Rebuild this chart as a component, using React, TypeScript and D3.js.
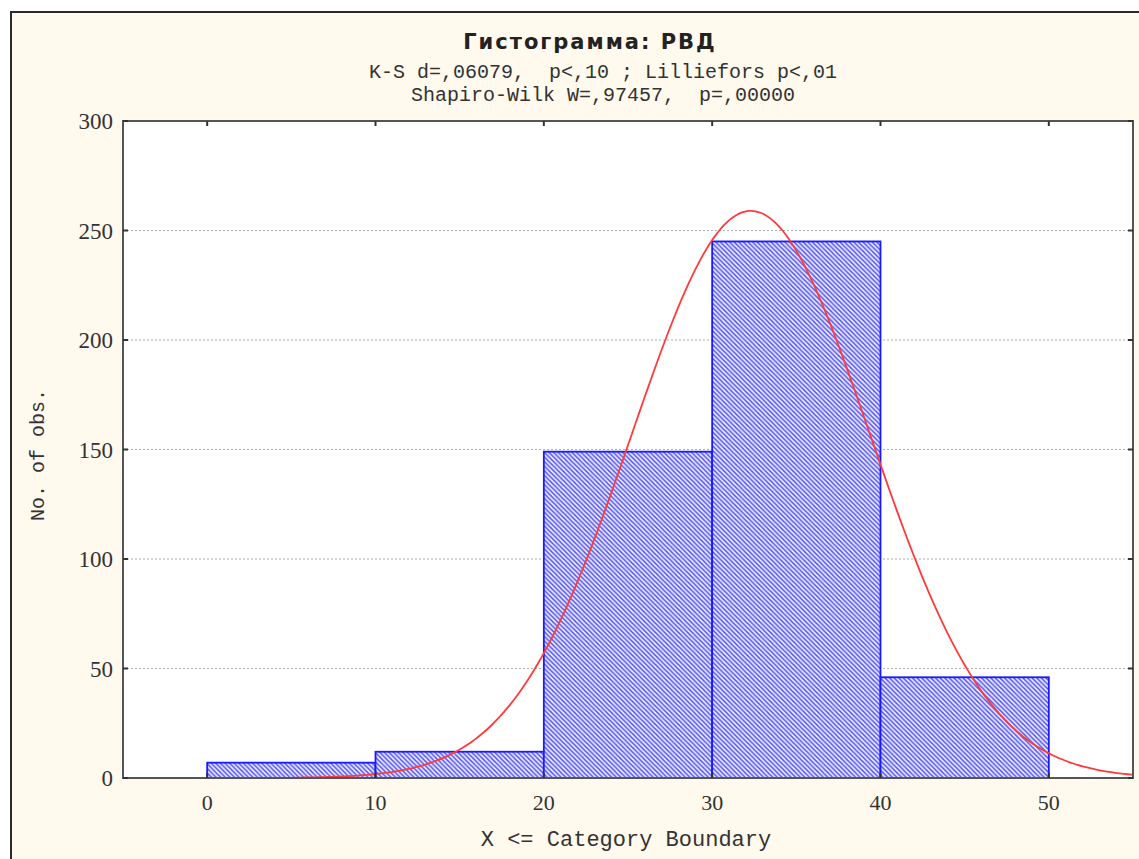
import React from 'react';
import * as d3 from 'd3';

// histogram bins (lower boundary, count)
const binStarts = [0, 10, 20, 30, 40];
const binCounts = [7, 12, 149, 245, 46];
const binWidth = 10;

// fitted normal curve parameters
const fitMean = 32.3;
const fitSd = 7.07;
const curveFrom = 5.2;
const curveTo = 55;

const xTicks = [0, 10, 20, 30, 40, 50];
const yTicks = [0, 50, 100, 150, 200, 250, 300];

const titleText = 'Гистограмма: РВД';
const subtitleLines = [
  'K-S d=,06079,  p<,10 ; Lilliefors p<,01',
  'Shapiro-Wilk W=,97457,  p=,00000',
];
const xLabel = 'X <= Category Boundary';
const yLabel = 'No. of obs.';

const W = 1139;
const H = 859;
const plot = { left: 123, right: 1133, top: 121, bottom: 778 };

const App: React.FC = () => {
  const x = d3.scaleLinear().domain([-5, 55]).range([plot.left, plot.right]);
  const y = d3.scaleLinear().domain([0, 300]).range([plot.bottom, plot.top]);

  const total = d3.sum(binCounts);
  const normal = (v: number) =>
    (total * binWidth * Math.exp(-0.5 * ((v - fitMean) / fitSd) ** 2)) /
    (fitSd * Math.sqrt(2 * Math.PI));

  const curvePts = d3.range(curveFrom, curveTo + 0.001, 0.25);
  const line = d3
    .line<number>()
    .x((d) => x(d))
    .y((d) => y(normal(d)))
    .curve(d3.curveBasis);

  const mono = '"Liberation Mono", "DejaVu Sans Mono", monospace';
  const serif = '"Liberation Serif", "DejaVu Serif", serif';
  const hp = 4.6; // hatch period

  return (
    <>
      <style>{'body{margin:0}'}</style>
      <svg width={W} height={H} style={{ display: 'block' }}>
        <defs>
          <pattern id="hatch" patternUnits="userSpaceOnUse" width={hp} height={hp}>
            <rect width={hp} height={hp} fill="#f0f0ff" />
            <path
              d={`M0,0 L${hp},${hp} M-1,${hp - 1} L1,${hp + 1} M${hp - 1},-1 L${hp + 1},1`}
              stroke="#5656f4"
              strokeWidth={1.5}
            />
          </pattern>
          <clipPath id="plotClip">
            <rect x={plot.left} y={plot.top} width={plot.right - plot.left} height={plot.bottom - plot.top} />
          </clipPath>
        </defs>

        <rect x={0} y={0} width={W} height={H} fill="#ffffff" />
        <rect x={11} y={12} width={W + 20} height={H + 20} fill="#fff9ee" stroke="#2a2a2a" strokeWidth={2} />

        <rect
          x={plot.left}
          y={plot.top}
          width={plot.right - plot.left}
          height={plot.bottom - plot.top}
          fill="#ffffff"
        />

        {/* grid */}
        {yTicks
          .filter((t) => t > 0 && t < 300)
          .map((t) => (
            <line
              key={'g' + t}
              x1={plot.left}
              x2={plot.right}
              y1={y(t)}
              y2={y(t)}
              stroke="#b0b0b0"
              strokeWidth={1}
              strokeDasharray="2,2"
            />
          ))}

        {/* bars */}
        {binStarts.map((s, i) => (
          <rect
            key={'b' + s}
            x={x(s)}
            y={y(binCounts[i])}
            width={x(s + binWidth) - x(s)}
            height={y(0) - y(binCounts[i])}
            fill="url(#hatch)"
            stroke="#1a1aff"
            strokeWidth={1.8}
          />
        ))}

        {/* normal curve */}
        <path
          d={line(curvePts) || ''}
          fill="none"
          stroke="#ff3a3a"
          strokeWidth={1.8}
          clipPath="url(#plotClip)"
        />

        {/* frame */}
        <rect
          x={plot.left}
          y={plot.top}
          width={plot.right - plot.left}
          height={plot.bottom - plot.top}
          fill="none"
          stroke="#555555"
          strokeWidth={2}
        />

        {/* ticks */}
        {xTicks.map((t) => (
          <g key={'xt' + t}>
            <line x1={x(t)} x2={x(t)} y1={plot.bottom} y2={plot.bottom - 5} stroke="#333" strokeWidth={2} />
            <line x1={x(t)} x2={x(t)} y1={plot.top} y2={plot.top + 5} stroke="#333" strokeWidth={2} />
            <text x={x(t)} y={810} textAnchor="middle" fontFamily={serif} fontSize={22} fill="#333">
              {t}
            </text>
          </g>
        ))}
        {yTicks.map((t) => (
          <g key={'yt' + t}>
            <line x1={plot.left} x2={plot.left + 5} y1={y(t)} y2={y(t)} stroke="#333" strokeWidth={2} />
            <line x1={plot.right} x2={plot.right - 5} y1={y(t)} y2={y(t)} stroke="#333" strokeWidth={2} />
            <text
              x={113}
              y={y(t)}
              dy="0.35em"
              textAnchor="end"
              fontFamily={serif}
              fontSize={23}
              fill="#333"
            >
              {t}
            </text>
          </g>
        ))}

        {/* titles */}
        <text
          x={590}
          y={49}
          textAnchor="middle"
          fontFamily='"DejaVu Sans", sans-serif'
          fontWeight="bold"
          fontSize={21}
          letterSpacing={2}
          fill="#222"
        >
          {titleText}
        </text>
        {subtitleLines.map((s, i) => (
          <text
            key={'st' + i}
            x={603}
            y={78 + i * 23}
            textAnchor="middle"
            fontFamily={mono}
            fontSize={20}
            fill="#333"
            style={{ whiteSpace: 'pre' }}
          >
            {s}
          </text>
        ))}

        <text
          x={626}
          y={846}
          textAnchor="middle"
          fontFamily={mono}
          fontSize={22}
          fill="#333"
          style={{ whiteSpace: 'pre' }}
        >
          {xLabel}
        </text>
        <text
          transform={`translate(44, 455) rotate(-90)`}
          textAnchor="middle"
          fontFamily={mono}
          fontSize={20}
          fill="#333"
          style={{ whiteSpace: 'pre' }}
        >
          {yLabel}
        </text>
      </svg>
    </>
  );
};

export default App;
